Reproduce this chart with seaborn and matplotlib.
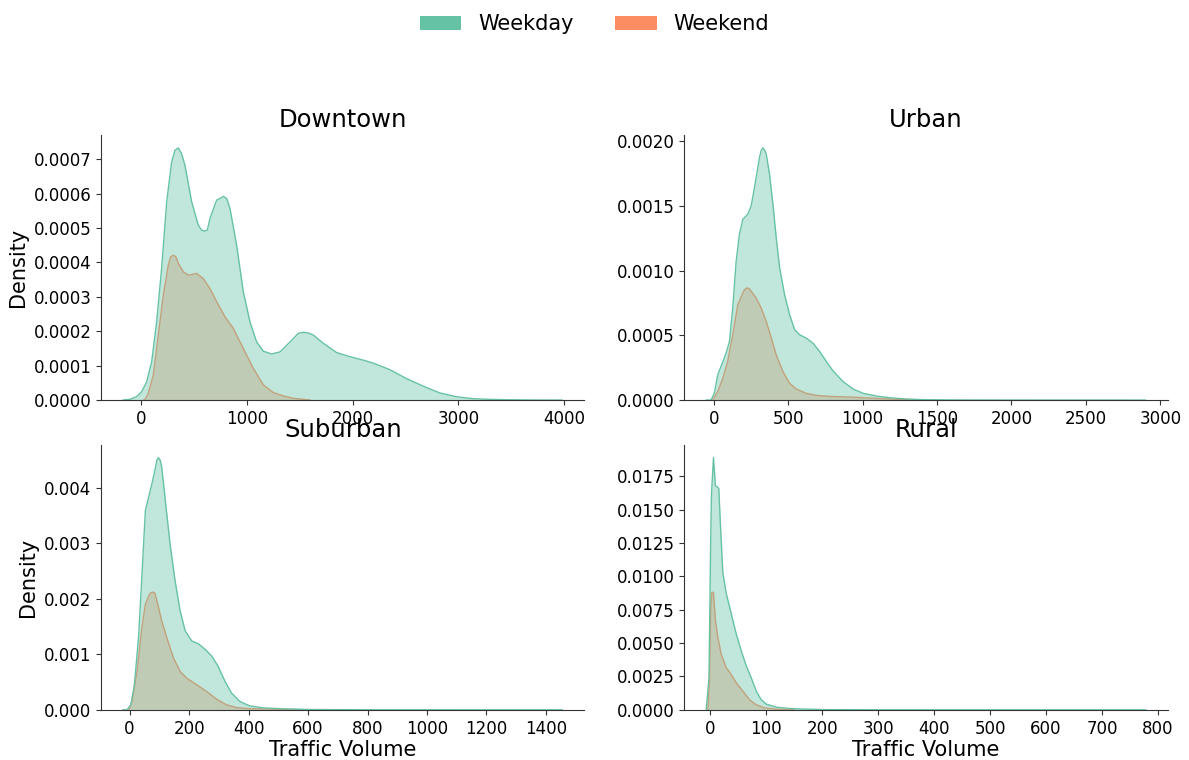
import matplotlib
matplotlib.use("Agg")
import matplotlib.pyplot as plt
from matplotlib.patches import Patch
from matplotlib.ticker import MultipleLocator
import seaborn as sns

# ---------------- data (density curves) ----------------
regions = ["Downtown", "Urban", "Suburban", "Rural"]
day_types = ["Weekday", "Weekend"]

downtown_weekday_x = [-170, -104, -41, 6, 54, 101, 148, 195, 243, 290, 321, 353, 384, 416, 479, 542,
                      573, 599, 627, 652, 715, 747, 778, 810, 841, 904, 967, 1030, 1093, 1156, 1235,
                      1314, 1408, 1487, 1534, 1581, 1628, 1723, 1849, 1975, 2100, 2189, 2347, 2505,
                      2663, 2820, 2978, 3136, 3294, 3451, 3700, 3980]
downtown_weekday_d = [0, 0.02, 0.1, 0.24, 0.53, 1.11, 2.27, 3.82, 5.76, 6.92, 7.26, 7.33, 7.16, 6.82,
                      5.76, 5.08, 4.94, 4.91, 4.94, 5.28, 5.81, 5.86, 5.92, 5.86, 5.57, 4.50, 3.15,
                      2.27, 1.69, 1.42, 1.34, 1.40, 1.69, 1.94, 1.97, 1.95, 1.89, 1.65, 1.38, 1.26,
                      1.16, 1.08, 0.89, 0.63, 0.41, 0.21, 0.097, 0.04, 0.02, 0.01, 0.002, 0]  # x 1e-4
downtown_weekend_x = [25, 38, 69, 117, 164, 211, 258, 280, 306, 331, 353, 400, 447, 526, 589, 652,
                      715, 794, 873, 967, 1062, 1156, 1250, 1345, 1440, 1600]
downtown_weekend_d = [0, 0.02, 0.19, 0.73, 1.89, 3.05, 3.92, 4.16, 4.21, 4.16, 3.97, 3.73, 3.63,
                      3.68, 3.53, 3.24, 2.86, 2.42, 2.08, 1.50, 0.92, 0.44, 0.22, 0.12, 0.05, 0]  # x 1e-4

urban_weekday_x = [-49, -18, 4, 27, 49, 83, 106, 128, 151, 173, 196, 229, 252, 274, 308, 319, 330,
                   342, 353, 375, 398, 420, 443, 476, 510, 544, 578, 622, 667, 712, 757, 802, 870,
                   937, 1004, 1094, 1184, 1297, 1409, 1600, 2000, 2900]
urban_weekday_d = [0, 0, 0.52, 1.94, 2.59, 3.62, 4.53, 7.12, 10.74, 12.82, 13.98, 14.37, 15.02,
                   16.44, 18.77, 19.3, 19.5, 19.34, 19.03, 17.48, 15.15, 12.56, 10.23, 8.16, 6.6,
                   5.44, 5.05, 4.79, 4.4, 3.75, 2.98, 2.25, 1.42, 0.85, 0.52, 0.31, 0.18, 0.08,
                   0.03, 0.01, 0.002, 0]  # x 1e-4
urban_weekend_x = [-7, 27, 61, 94, 128, 162, 196, 207, 225, 240, 252, 285, 319, 353, 387, 420, 465,
                   510, 555, 622, 690, 780, 915, 1004, 1184, 1350]
urban_weekend_d = [0, 0.65, 1.68, 2.98, 5.05, 7.38, 8.28, 8.54, 8.67, 8.6, 8.41, 7.9, 7.12, 6.08,
                   4.79, 3.5, 2.2, 1.29, 0.85, 0.52, 0.36, 0.28, 0.23, 0.18, 0.08, 0]  # x 1e-4

suburban_weekday_x = [-22, -9, 4, 16, 30, 41, 53, 64, 75, 86, 92, 97, 103, 108, 120, 136, 153, 170,
                      187, 209, 231, 254, 276, 298, 321, 343, 371, 404, 449, 516, 606, 800, 1455]
suburban_weekday_d = [0, 0, 0.09, 0.45, 1.3, 2.38, 3.59, 3.83, 4.07, 4.34, 4.5, 4.54, 4.49, 4.37,
                      3.77, 2.99, 2.32, 1.78, 1.42, 1.24, 1.19, 1.09, 0.97, 0.78, 0.51, 0.30, 0.15,
                      0.07, 0.036, 0.018, 0.006, 0.001, 0]  # x 1e-3
suburban_weekend_x = [-3, 8, 25, 41, 53, 67, 72, 78, 85, 92, 108, 125, 147, 170, 192, 226, 259, 293,
                      326, 360, 404, 600]
suburban_weekend_d = [0, 0.15, 0.69, 1.48, 1.9, 2.08, 2.11, 2.12, 2.1, 1.96, 1.6, 1.3, 0.94, 0.69,
                      0.57, 0.45, 0.33, 0.19, 0.09, 0.04, 0.02, 0]  # x 1e-3

rural_weekday_x = [-7, -2, 1, 2.4, 6, 9.5, 13, 15.5, 18.5, 22.7, 28.7, 37.6, 46.6, 55.5, 64.5,
                   73.4, 82.4, 91.3, 100.3, 118, 142, 172, 200, 300, 778]
rural_weekday_d = [0, 2.4, 12.6, 16.1, 18.9, 16.8, 16.7, 16.6, 13.8, 10.3, 8.75, 7.23, 5.7, 4.44,
                   3.3, 2.41, 1.4, 0.76, 0.43, 0.2, 0.1, 0.05, 0.02, 0.002, 0]  # x 1e-3
rural_weekend_x = [-4, -1, 1, 3, 6, 9.5, 13.7, 19.7, 28.7, 37.6, 46.6, 58.5, 70.4, 82.4, 97.3,
                   118, 150]
rural_weekend_d = [0, 2.4, 7.5, 8.8, 8.8, 6.7, 5.45, 4.18, 3.17, 2.66, 2.03, 1.4, 0.76, 0.38,
                   0.15, 0.05, 0]  # x 1e-3

curves = {
    "Downtown": {"Weekday": (downtown_weekday_x, downtown_weekday_d, 1e-4),
                 "Weekend": (downtown_weekend_x, downtown_weekend_d, 1e-4)},
    "Urban": {"Weekday": (urban_weekday_x, urban_weekday_d, 1e-4),
              "Weekend": (urban_weekend_x, urban_weekend_d, 1e-4)},
    "Suburban": {"Weekday": (suburban_weekday_x, suburban_weekday_d, 1e-3),
                 "Weekend": (suburban_weekend_x, suburban_weekend_d, 1e-3)},
    "Rural": {"Weekday": (rural_weekday_x, rural_weekday_d, 1e-3),
              "Weekend": (rural_weekend_x, rural_weekend_d, 1e-3)},
}

x_limits = {"Downtown": (-377, 4189), "Urban": (-197, 3049),
            "Suburban": (-96, 1529), "Rural": (-46, 817)}
y_steps = {"Downtown": 0.0001, "Urban": 0.0005, "Suburban": 0.001, "Rural": 0.0025}

# ---------------- style ----------------
plt.rcParams["font.family"] = ["DejaVu Sans"]
plt.rcParams["axes.edgecolor"] = "#333333"

palette = dict(zip(day_types, sns.color_palette("Set2", 2)))

fig, axes = plt.subplots(2, 2, figsize=(11.89, 7.6), dpi=100)
fig.subplots_adjust(left=0.085, right=0.982, top=0.822, bottom=0.066,
                    wspace=0.207, hspace=0.17)

# weekend drawn first, weekday on top (as seaborn draws hue levels in reverse)
zorders = {"Weekend": (1.0, 1.1), "Weekday": (1.2, 1.3)}

for ax, region in zip(axes.flat, regions):
    for day in ["Weekend", "Weekday"]:
        xs, ds, scale = curves[region][day]
        ys = [v * scale for v in ds]
        fz, lz = zorders[day]
        ax.fill_between(xs, ys, 0, color=palette[day], alpha=0.4, lw=0, zorder=fz)
        sns.lineplot(x=xs, y=ys, color=palette[day], lw=1.0, ax=ax, zorder=lz)
    ax.set_xlim(*x_limits[region])
    ax.set_ylim(bottom=0)
    ax.yaxis.set_major_locator(MultipleLocator(y_steps[region]))
    ax.set_title(region, fontsize=17.5)
    ax.tick_params(labelsize=12, color="#333333")
    ax.set_xlabel("")
    ax.set_ylabel("")
    sns.despine(ax=ax)

for ax in axes[:, 0]:
    ax.set_ylabel("Density", fontsize=15)
for ax in axes[1, :]:
    ax.set_xlabel("Traffic Volume", fontsize=15, labelpad=2)

handles = [Patch(facecolor=palette[d], edgecolor="none", label=d) for d in day_types]
fig.legend(handles=handles, labels=day_types, loc="upper center",
           bbox_to_anchor=(0.5, 1.006), ncol=2, frameon=False, fontsize=15)

fig.savefig("out.png", dpi=100)
